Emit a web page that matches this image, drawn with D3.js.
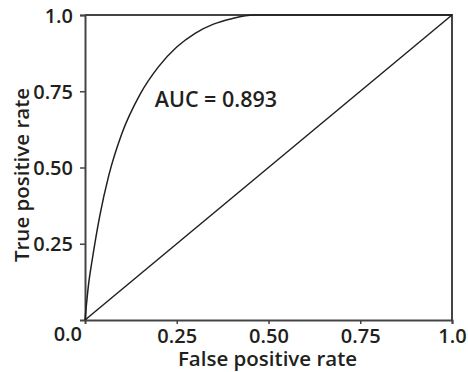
<!DOCTYPE html>
<html>
<head>
<meta charset="utf-8">
<script src="https://cdn.jsdelivr.net/npm/d3@7"></script>
<style>
  body { margin: 0; background: #fff; }
  svg text { font-family: "Open Sans", sans-serif; font-weight: 600; fill: #231f20; }
</style>
</head>
<body>
<div class="svg-wrapper"></div>
<script>
// ROC curve (false positive rate, true positive rate)
fpr = [0, 0.01, 0.02, 0.04, 0.065, 0.1, 0.15, 0.2, 0.25, 0.3, 0.35, 0.4, 0.46, 1.0];
tpr = [0, 0.12, 0.2, 0.34, 0.475, 0.61, 0.74, 0.83, 0.895, 0.94, 0.97, 0.988, 1.0, 1.0];
chance  = [0, 1];
x_ticks = [0.25, 0.5, 0.75, 1.0];
y_ticks = [0.25, 0.5, 0.75, 1.0];
tick_labels = { 0.25: "0.25", 0.5: "0.50", 0.75: "0.75", 1: "1.0" };
auc_label = "AUC = 0.893";
x_label = "False positive rate";
y_label = "True positive rate";

var margin = {top: 15, right: 16, bottom: 52, left: 85},
    W = 468, H = 372,
    width  = W - margin.left - margin.right,
    height = H - margin.top - margin.bottom;

var svg = d3.select(".svg-wrapper").append("svg")
  .attr("width", W)
  .attr("height", H);

var g = svg.append("g")
  .attr("transform", "translate(" + margin.left + "," + margin.top + ")");

var xScale = d3.scaleLinear().domain([0, 1]).range([0, width]),
    yScale = d3.scaleLinear().domain([0, 1]).range([height, 0]);

// frame (top and right)
g.append("path")
  .attr("d", "M" + xScale(0) + "," + yScale(1) + "H" + xScale(1) + "V" + yScale(0))
  .attr("fill", "none")
  .attr("stroke", "#444")
  .attr("stroke-width", 2);

var xAxis = d3.axisBottom(xScale)
  .tickValues(x_ticks)
  .tickSize(4)
  .tickPadding(5)
  .tickFormat(function(d) { return tick_labels[d]; });

var yAxis = d3.axisLeft(yScale)
  .tickValues(y_ticks)
  .tickSize(5)
  .tickPadding(7)
  .tickFormat(function(d) { return tick_labels[d]; });

var g_xAxis = g.append("g")
  .attr("transform", "translate(0," + height + ")")
  .call(xAxis);

var g_yAxis = g.append("g").call(yAxis);

[g_xAxis, g_yAxis].forEach(function(ax) {
  ax.select(".domain").attr("stroke", "#444").attr("stroke-width", 2);
  ax.selectAll(".tick line").attr("stroke", "#444").attr("stroke-width", 1.5);
  ax.selectAll("text").style("font-size", "20px").attr("fill", "#231f20");
});
g_yAxis.selectAll("text").attr("dy", "0.36em");

// shared origin label
g.append("text")
  .attr("x", xScale(0) - 3)
  .attr("y", yScale(0) + 21)
  .attr("text-anchor", "end")
  .style("font-size", "20px")
  .text("0.0");

// chance line
g.append("line")
  .attr("x1", xScale(chance[0])).attr("y1", yScale(chance[0]))
  .attr("x2", xScale(chance[1])).attr("y2", yScale(chance[1]))
  .attr("stroke", "#231f20")
  .attr("stroke-width", 1.5);

// ROC curve
var points = fpr.map(function(f, i) { return {x: f, y: tpr[i]}; });
var line = d3.line()
  .x(function(d) { return xScale(d.x); })
  .y(function(d) { return yScale(d.y); })
  .curve(d3.curveMonotoneX);

g.append("path")
  .datum(points)
  .attr("d", line)
  .attr("fill", "none")
  .attr("stroke", "#231f20")
  .attr("stroke-width", 1.5);

g.append("text")
  .attr("x", xScale(0.19))
  .attr("y", yScale(0.698))
  .style("font-size", "21.5px")
  .text(auc_label);

svg.append("text")
  .attr("x", margin.left + width / 2 - 1)
  .attr("y", 366)
  .attr("text-anchor", "middle")
  .style("font-size", "20.5px")
  .text(x_label);

svg.append("text")
  .attr("transform", "translate(29," + 175 + ") rotate(-90)")
  .attr("text-anchor", "middle")
  .style("font-size", "20.5px")
  .text(y_label);
</script>
</body>
</html>
